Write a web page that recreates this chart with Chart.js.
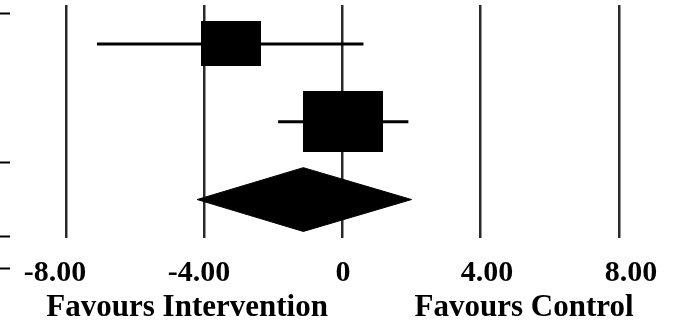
<!DOCTYPE html>
<html>
<head>
<meta charset="utf-8">
<script src="https://cdn.jsdelivr.net/npm/chart.js@4/dist/chart.umd.min.js"></script>
<style>
    html, body { margin: 0; padding: 0; background: #fff; }
    #wrap { width: 675px; height: 324px; }
</style>
</head>
<body>
<div id="wrap"><canvas id="forest" width="675" height="324"></canvas></div>
<script>
// Study rows (top to bottom) and their results
const studyRows = [1, 2];
const estimates = [-3.23, 0.02];
const lowerCI = [-7.10, -1.86];
const upperCI = [0.61, 1.91];
const weights = [35.7, 64.3];

// Pooled result: lower, estimate, upper
const summaryRow = 3;
const summary = [-4.20, -1.13, 2.00];

// Axis ticks
const tickValues = [-8, -4, 0, 4, 8];
const favourLabels = ['Favours Intervention', 'Favours Control'];
const favourPositions = [-4.33, 5.03];

// Small row markers on the left edge (row units)
const sideTicks = [0.603, 2.513, 3.468, 3.881];

const FAMILY = "'Liberation Serif', 'Times New Roman', serif";
const TICK_FONT = { family: FAMILY, size: 30, weight: 'bold' };
const CAPTION_SIZE = 31;
const DIAMOND_HALF = 0.41;

// Box marker sized by study weight
function makeBox(w) {
    const c = document.createElement('canvas');
    c.width = Math.round(10 * Math.sqrt(w));
    c.height = Math.round(7.6 * Math.sqrt(w));
    const g = c.getContext('2d');
    g.fillStyle = '#000';
    g.fillRect(0, 0, c.width, c.height);
    return c;
}

// Short ticks at the left edge + the "Favours ..." captions under the axis
const extrasPlugin = {
    id: 'forestExtras',
    afterDraw(chart) {
        const y = chart.scales.y;
        const xl = chart.scales.xLabels;
        const ctx = chart.ctx;
        ctx.save();
        ctx.strokeStyle = '#000';
        ctx.lineWidth = 2;
        sideTicks.forEach(v => {
            const py = Math.round(y.getPixelForValue(v)) + 0.5;
            ctx.beginPath();
            ctx.moveTo(0, py);
            ctx.lineTo(10, py);
            ctx.stroke();
        });

        ctx.fillStyle = '#000';
        ctx.font = `bold ${CAPTION_SIZE}px ${FAMILY}`;
        ctx.textAlign = 'center';
        ctx.textBaseline = 'alphabetic';
        favourLabels.forEach((label, i) => {
            ctx.fillText(label, xl.getPixelForValue(favourPositions[i]), xl.bottom + 8);
        });
        ctx.restore();
    }
};

function buildDatasets() {
    const sets = [];

    // confidence interval lines
    studyRows.forEach((row, i) => {
        sets.push({
            type: 'line',
            data: [{ x: lowerCI[i], y: row }, { x: upperCI[i], y: row }],
            borderColor: '#000',
            borderWidth: 3,
            pointRadius: 0,
            showLine: true,
            fill: false
        });
    });

    // study boxes
    sets.push({
        type: 'scatter',
        data: studyRows.map((row, i) => ({ x: estimates[i], y: row })),
        pointStyle: weights.map(makeBox),
        backgroundColor: '#000',
        borderColor: '#000'
    });

    // pooled diamond
    sets.push({
        type: 'line',
        data: [
            { x: summary[0], y: summaryRow },
            { x: summary[1], y: summaryRow - DIAMOND_HALF },
            { x: summary[2], y: summaryRow },
            { x: summary[1], y: summaryRow + DIAMOND_HALF },
            { x: summary[0], y: summaryRow }
        ],
        borderColor: '#000',
        backgroundColor: '#000',
        borderWidth: 1,
        pointRadius: 0,
        tension: 0,
        fill: 'shape'
    });

    return sets;
}

new Chart(document.getElementById('forest'), {
    type: 'scatter',
    data: { datasets: buildDatasets() },
    options: {
        responsive: false,
        animation: false,
        events: [],
        layout: { padding: { top: 5, left: 0, right: 0, bottom: 16 } },
        plugins: {
            legend: { display: false },
            tooltip: { enabled: false }
        },
        scales: {
            x: {
                type: 'linear',
                position: 'bottom',
                min: -9.76,
                max: 9.478,
                afterBuildTicks: s => { s.ticks = tickValues.map(v => ({ value: v })); },
                grid: { color: '#2a2a2a', lineWidth: 2.5, drawTicks: false },
                border: { display: false },
                ticks: { display: false }
            },
            xLabels: {
                type: 'linear',
                position: 'bottom',
                min: -9.389,
                max: 9.083,
                afterBuildTicks: s => { s.ticks = tickValues.map(v => ({ value: v })); },
                grid: { display: false, drawTicks: false },
                border: { display: false },
                ticks: {
                    autoSkip: false,
                    maxRotation: 0,
                    padding: 17,
                    color: '#000',
                    font: TICK_FONT,
                    callback: v => v === 0 ? '0' : v.toFixed(2)
                }
            },
            y: {
                type: 'linear',
                display: false,
                reverse: true,
                min: 0.5,
                max: 3.494
            }
        }
    },
    plugins: [extrasPlugin]
});
</script>
</body>
</html>
